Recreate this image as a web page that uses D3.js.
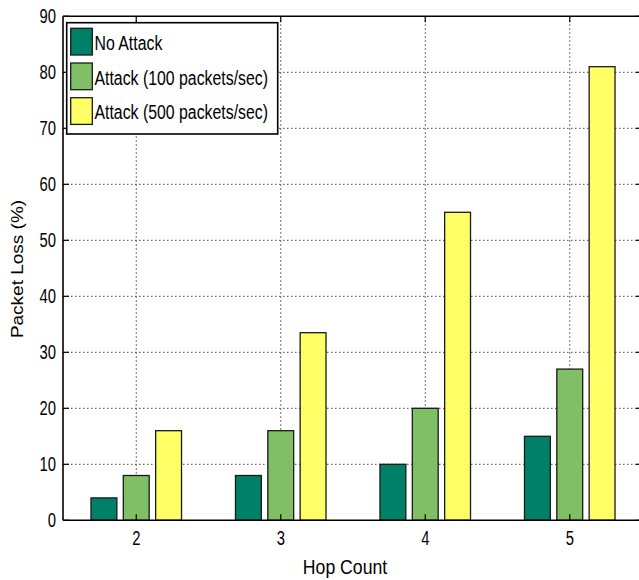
<!DOCTYPE html>
<html>
<head>
<meta charset="utf-8">
<script src="https://cdn.jsdelivr.net/npm/d3@7"></script>
<style>
  body { margin: 0; background: #fff; }
  text { font-family: "Liberation Sans", Arial, Helvetica, sans-serif; fill: #000; }
</style>
</head>
<body>
<svg id="chart" width="639" height="580"></svg>
<script>
// Packet loss by hop count, three traffic scenarios
const hopCounts = [2, 3, 4, 5];
const seriesNames = ["No Attack", "Attack (100 packets/sec)", "Attack (500 packets/sec)"];
const noAttack = [4, 8, 10, 15];
const attack100 = [8, 16, 20, 27];
const attack500 = [16, 33.5, 55, 81];
const yTickValues = [0, 10, 20, 30, 40, 50, 60, 70, 80, 90];
const seriesColors = ["#008066", "#80bf66", "#ffff66"];

const seriesValues = [noAttack, attack100, attack500];
const rows = hopCounts.map((h, i) => ({
  hop: h,
  values: seriesNames.map((name, s) => ({ name, s, value: seriesValues[s][i] }))
}));

const svg = d3.select("#chart");
const plot = { left: 63, right: 642, top: 16.3, bottom: 520.3 };

const x0 = d3.scaleBand().domain(hopCounts).range([plot.left + 1, plot.right]).padding(0);
const x1 = d3.scaleBand().domain(d3.range(seriesNames.length)).range([0, 97])
  .paddingInner(0.2).paddingOuter(0.1);
const y = d3.scaleLinear().domain([0, 90]).range([plot.bottom, plot.top]);

// narrow lettering: horizontal squeeze per label
function label(g, x, yPos, str, size, squeeze, anchor, rotate) {
  return g.append("text")
    .attr("transform", `translate(${x},${yPos}) scale(${squeeze},1)` + (rotate ? " rotate(-90)" : ""))
    .attr("text-anchor", anchor)
    .style("font-size", size + "px")
    .text(str);
}

// grid
const grid = svg.append("g").attr("stroke", "#444").attr("stroke-width", 1)
  .attr("stroke-dasharray", "1.5,2.5").attr("fill", "none");
grid.selectAll("line.h").data(yTickValues.filter(v => v > 0 && v < 90)).join("line")
  .attr("x1", plot.left).attr("x2", plot.right)
  .attr("y1", d => y(d)).attr("y2", d => y(d));
grid.selectAll("line.v").data(hopCounts).join("line")
  .attr("x1", d => x0(d) + x0.bandwidth() / 2).attr("x2", d => x0(d) + x0.bandwidth() / 2)
  .attr("y1", plot.top).attr("y2", plot.bottom);

// bars
const groups = svg.append("g").selectAll("g").data(rows).join("g")
  .attr("transform", d => `translate(${x0(d.hop) + x0.bandwidth() / 2 - 48.5},0)`);
groups.selectAll("rect").data(d => d.values).join("rect")
  .attr("x", d => x1(d.s))
  .attr("width", x1.bandwidth())
  .attr("y", d => y(d.value))
  .attr("height", d => y(0) - y(d.value))
  .attr("fill", d => seriesColors[d.s])
  .attr("stroke", "#1a1a1a")
  .attr("stroke-width", 1.3);

// frame
const frame = svg.append("g").attr("stroke", "#000").attr("stroke-width", 1.6);
frame.append("line").attr("x1", plot.left).attr("x2", plot.right).attr("y1", plot.top).attr("y2", plot.top);
frame.append("line").attr("x1", plot.left).attr("x2", plot.right).attr("y1", plot.bottom).attr("y2", plot.bottom);
frame.append("line").attr("x1", plot.left).attr("x2", plot.left).attr("y1", plot.top).attr("y2", plot.bottom);
frame.append("line").attr("x1", plot.right).attr("x2", plot.right).attr("y1", plot.top).attr("y2", plot.bottom);

// inward ticks
const ticks = svg.append("g").attr("stroke", "#000").attr("stroke-width", 1.2);
yTickValues.forEach(v => {
  ticks.append("line").attr("x1", plot.left).attr("x2", plot.left + 6).attr("y1", y(v)).attr("y2", y(v));
  ticks.append("line").attr("x1", plot.right - 6).attr("x2", plot.right).attr("y1", y(v)).attr("y2", y(v));
});
hopCounts.forEach(h => {
  const cx = x0(h) + x0.bandwidth() / 2;
  ticks.append("line").attr("x1", cx).attr("x2", cx).attr("y1", plot.top).attr("y2", plot.top + 6);
  ticks.append("line").attr("x1", cx).attr("x2", cx).attr("y1", plot.bottom).attr("y2", plot.bottom - 6);
});

// tick labels
const tl = svg.append("g");
yTickValues.forEach(v => label(tl, 56, y(v) + 7, String(v), 19.5, 0.76, "end"));
hopCounts.forEach(h => label(tl, x0(h) + x0.bandwidth() / 2, 545, String(h), 19.5, 0.76, "middle"));

// axis titles
label(svg, 345, 574, "Hop Count", 21, 0.84, "middle");
label(svg, 23, 269, "Packet Loss (%)", 19, 0.82, "middle", true);

// legend
const legend = svg.append("g");
legend.append("rect").attr("x", 66.7).attr("y", 22.7).attr("width", 211).attr("height", 111.3)
  .attr("fill", "#fff").attr("stroke", "#000").attr("stroke-width", 1.6);
seriesNames.forEach((name, i) => {
  const top = 28.3 + i * 34.7;
  legend.append("rect").attr("x", 70.7).attr("y", top).attr("width", 21.6).attr("height", 26.7)
    .attr("fill", seriesColors[i]).attr("stroke", "#1a1a1a").attr("stroke-width", 1.3);
  label(legend, 94.5, top + 21.5, name, 21, 0.755, "start");
});
</script>
</body>
</html>
